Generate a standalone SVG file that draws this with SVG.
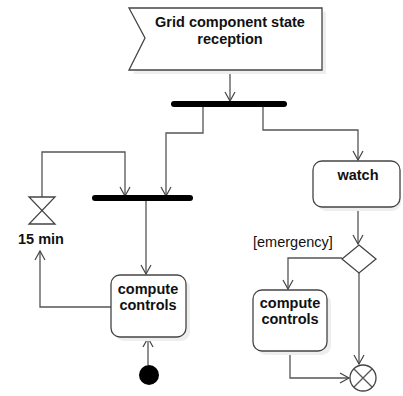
<svg xmlns="http://www.w3.org/2000/svg" width="403" height="396" viewBox="0 0 403 396">
<defs>
<marker id="arr" markerWidth="12" markerHeight="12" refX="10" refY="6" orient="auto" markerUnits="userSpaceOnUse">
<path d="M1,1 L10,6 L1,11" fill="none" stroke="#444" stroke-width="1.2"/>
</marker>
</defs>
<style>
.ln{fill:none;stroke:#555;stroke-width:1.3}
.box{fill:#fff;stroke:#444;stroke-width:1.3}
.sh{fill:#eee;stroke:none}
.t{font-family:"Liberation Sans",Arial,sans-serif;font-size:14.5px;font-weight:bold;fill:#111;text-anchor:middle}
.tn{font-family:"Liberation Sans",Arial,sans-serif;font-size:14.5px;fill:#111}
.bar{fill:#000}
</style>
<rect width="403" height="396" fill="#fff"/>
<g id="connectors">
<path class="ln" d="M230,70 V101" marker-end="url(#arr)"/>
<path class="ln" d="M203,104 V133 H166 V196" marker-end="url(#arr)"/>
<path class="ln" d="M263,104 V130 H358 V160" marker-end="url(#arr)"/>
<path class="ln" d="M42,197 V152 H125 V196" marker-end="url(#arr)"/>
<path class="ln" d="M146,198 V274" marker-end="url(#arr)"/>
<path class="ln" d="M148,365 V338" marker-end="url(#arr)"/>
<path class="ln" d="M111,307 H40 V251" marker-end="url(#arr)"/>
<path class="ln" d="M358,207 V244" marker-end="url(#arr)"/>
<path class="ln" d="M342,258 H288 V289" marker-end="url(#arr)"/>
<path class="ln" d="M359,273 V364" marker-end="url(#arr)"/>
<path class="ln" d="M290,351 V378 H349" marker-end="url(#arr)"/>
</g>
<g id="reception">
<path class="sh" d="M133,12 L326,12 L326,74 L133,74 L149,42 Z"/>
<path class="box" d="M129,8 L322,8 L322,70 L129,70 L145,38 Z"/>
<text class="t" x="230" y="27">Grid component state</text>
<text class="t" x="230" y="44">reception</text>
</g>
<g id="fork1"><rect class="bar" x="171" y="101" width="116" height="6" rx="3"/></g>
<g id="join1"><rect class="bar" x="92" y="195" width="101" height="6" rx="3"/></g>
<g id="timer">
<path class="box" d="M29,197 H55 L29,224 H55 Z"/>
<text class="t" x="41" y="244">15 min</text>
</g>
<g id="compute1">
<rect class="sh" x="115" y="279" width="75" height="62" rx="9"/>
<rect class="box" x="111" y="275" width="75" height="62" rx="9"/>
<text class="t" x="148" y="294">compute</text>
<text class="t" x="148" y="310">controls</text>
</g>
<g id="initial"><circle cx="149" cy="375" r="10" fill="#000"/></g>
<g id="watch">
<rect class="sh" x="317" y="165" width="84" height="46" rx="9"/>
<rect class="box" x="313" y="161" width="87" height="46" rx="9"/>
<text class="t" x="358" y="180">watch</text>
</g>
<g id="decision">
<path class="box" d="M359,245 L376,259 L359,273 L342,259 Z"/>
<text class="tn" x="253" y="247">[emergency]</text>
</g>
<g id="compute2">
<rect class="sh" x="257" y="294" width="74" height="61" rx="9"/>
<rect class="box" x="253" y="290" width="74" height="61" rx="9"/>
<text class="t" x="290" y="308">compute</text>
<text class="t" x="290" y="324">controls</text>
</g>
<g id="final">
<circle class="box" cx="363" cy="378" r="13"/>
<path class="ln" d="M354,369 L372,387 M372,369 L354,387" stroke="#444"/>
</g>
</svg>
